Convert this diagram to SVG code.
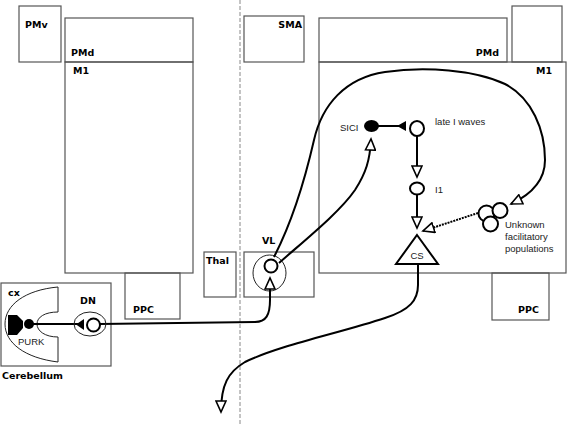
<svg xmlns="http://www.w3.org/2000/svg" width="567" height="426" viewBox="0 0 567 426">
<style>
.box{fill:none;stroke:#555;stroke-width:1.2}
.lbl{font-family:"DejaVu Sans",Verdana,sans-serif;font-weight:bold;font-size:9.5px;fill:#000}
.txt{font-family:"Liberation Sans",Arial,sans-serif;font-size:9.5px;fill:#222}
.conn{fill:none;stroke:#000;stroke-width:2}
.cell{fill:#fff;stroke:#000;stroke-width:2}
.thin{fill:none;stroke:#222;stroke-width:1}
.open{fill:#fff;stroke:#000;stroke-width:1.6}
.inh{fill:#000;stroke:none}
</style>
<defs>
<marker id="arr" markerUnits="userSpaceOnUse" markerWidth="14" markerHeight="12" viewBox="0 0 14 12" refX="12" refY="6" orient="auto">
<path d="M1,1 L12,6 L1,11 Z" class="open"/>
</marker>
</defs>
<rect width="567" height="426" fill="#fff"/>
<line x1="240" y1="0" x2="240" y2="426" stroke="#888" stroke-width="1" stroke-dasharray="4,2"/>

<g id="PMv"><rect class="box" x="19" y="6" width="42" height="56"/><text class="lbl" x="25" y="28">PMv</text></g>
<g id="PMd-left"><rect class="box" x="65" y="18" width="128" height="44"/><text class="lbl" x="71" y="56">PMd</text></g>
<g id="M1-left"><rect class="box" x="65" y="62" width="128" height="211"/><text class="lbl" x="73" y="74">M1</text></g>
<g id="PPC-left"><rect class="box" x="125" y="273" width="55" height="46"/><text class="lbl" x="133" y="313">PPC</text></g>
<g id="Thal"><rect class="box" x="204" y="252" width="32" height="45"/><text class="lbl" x="206" y="264">Thal</text></g>

<g id="SMA"><rect class="box" x="244" y="16" width="60" height="46"/><text class="lbl" x="302" y="28" text-anchor="end">SMA</text></g>
<g id="PMd-right"><rect class="box" x="319" y="18" width="188" height="44"/><text class="lbl" x="499" y="56" text-anchor="end">PMd</text></g>
<g id="box-topright"><rect class="box" x="512" y="6" width="50" height="56"/></g>
<g id="M1-right"><rect class="box" x="319" y="62" width="247" height="211"/><text class="lbl" x="552" y="74" text-anchor="end">M1</text></g>
<g id="PPC-right"><rect class="box" x="492" y="273" width="57" height="47"/><text class="lbl" x="539" y="313" text-anchor="end">PPC</text></g>

<g id="VL"><rect class="box" x="244" y="252" width="70" height="45"/><text class="lbl" x="262" y="244">VL</text>
<ellipse class="thin" cx="269.5" cy="273" rx="16.5" ry="18"/></g>

<g id="Cerebellum"><rect class="box" x="1" y="283" width="110" height="83" stroke="#444"/><text class="lbl" x="2" y="379">Cerebellum</text>
<path d="M58,287 C25,290 5,305 5,324 C5,343 25,358 58,362 L58,337 C45,337 37,331 37,324 C37,317 45,312 58,312 Z" fill="#fff" stroke="#222" stroke-width="1"/>
<text class="lbl" x="8" y="296" font-size="8.5">cx</text>
</g>

<g id="connectors">
<path class="conn" d="M274,257 C292,222 306,175 314,140 C322,105 345,78 385,72 C425,66 475,70 505,84 C532,98 545,130 545,160 C545,182 530,195 511,204" marker-end="url(#arr)"/>
<path class="conn" d="M279,263 C305,240 340,212 355,190 C366,173 370,160 371,139" marker-end="url(#arr)"/>
<path class="conn" d="M100,324 L255,322 C266,322 270,315 270,300 L270,278" marker-end="url(#arr)"/>
<path class="conn" d="M418,264 L418,285 C418,300 410,310 385,318 C340,333 280,345 245,362 C228,372 221,385 221,412" marker-end="url(#arr)"/>
<path class="conn" d="M417,136 L417,177" marker-end="url(#arr)"/>
<path class="conn" d="M417,195 L417,228" marker-end="url(#arr)"/>
<path class="conn" d="M478,213 L423,231" stroke-dasharray="2,1" marker-end="url(#arr)"/>
<line class="conn" x1="372" y1="126" x2="400" y2="126"/>
<polygon class="inh" points="397,126 406,121 406,131"/>
<line class="conn" x1="29" y1="324" x2="80" y2="324"/>
<polygon class="inh" points="76,324.5 84,319 84,330"/>
</g>

<g id="PURK">
<path class="inh" d="M8,315 L17,315 L23,321 L23,328 L17,335 L8,335 Z"/>
<circle cx="29" cy="324" r="5" fill="#000"/>
<text class="txt" x="18" y="345">PURK</text>
</g>

<g id="DN"><text class="lbl" x="80" y="304">DN</text>
<ellipse class="thin" cx="90" cy="324" rx="16" ry="12"/>
<circle class="cell" cx="93.5" cy="325" r="6.5"/></g>

<g id="VL-cell"><circle class="cell" cx="271" cy="266" r="6.5"/></g>

<g id="SICI"><ellipse cx="371.5" cy="126" rx="7.5" ry="6" fill="#000"/><text class="txt" x="340" y="131">SICI</text></g>
<g id="late-I-waves"><ellipse class="cell" cx="417" cy="128.5" rx="7" ry="7.5"/><text class="txt" x="435" y="125">late I waves</text></g>
<g id="I1"><ellipse class="cell" cx="417" cy="188.5" rx="7" ry="6"/><text class="txt" x="435" y="193">I1</text></g>
<g id="CS"><polygon class="cell" points="417,235 438,264 396,264"/><text class="txt" x="417" y="259" text-anchor="middle">CS</text></g>
<g id="Unknown">
<circle class="cell" cx="486.5" cy="213.5" r="8"/>
<circle class="cell" cx="500" cy="210.5" r="7.5"/>
<circle class="cell" cx="490.5" cy="224" r="7.5"/>
<text class="txt" x="505" y="228">Unknown</text>
<text class="txt" x="505" y="240">facilitatory</text>
<text class="txt" x="505" y="252">populations</text>
</g>
</svg>
